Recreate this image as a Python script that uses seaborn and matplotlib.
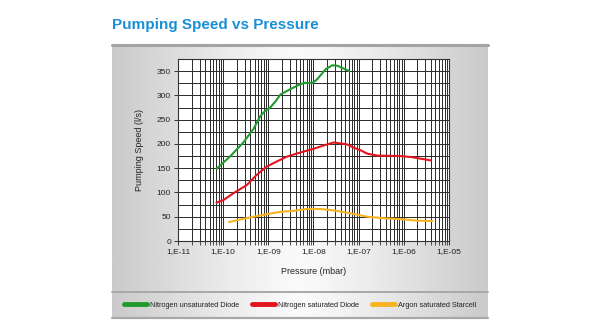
import numpy as np
import pandas as pd
import matplotlib
matplotlib.use("Agg")
import matplotlib.pyplot as plt
import matplotlib.ticker as mticker
from matplotlib.lines import Line2D
import seaborn as sns

title = "Pumping Speed vs Pressure"
x_label = "Pressure (mbar)"
y_label = "Pumping Speed (l/s)"
series_names = ["Nitrogen unsaturated Diode", "Nitrogen saturated Diode", "Argon saturated Starcell"]
series_colors = ["#1f9a2e", "#e3141e", "#f7b320"]

green_p = [7.2e-11, 1.45e-10, 2.8e-10, 4.7e-10, 6.6e-10, 8.5e-10, 1.1e-9, 1.45e-9, 1.86e-9,
           3.1e-9, 5.1e-9, 6.6e-9, 9.3e-9, 1.2e-8, 1.86e-8, 2.6e-8, 3.4e-8, 6.2e-8]
green_s = [149, 175, 203, 231, 257, 268, 275, 288, 302,
           313, 323, 326, 325, 333, 354, 362, 361, 350]

red_p = [7.1e-11, 1.0e-10, 1.66e-10, 3.3e-10, 5.5e-10, 9.1e-10, 1.55e-9, 2.6e-9, 5.0e-9,
         1.0e-8, 2.0e-8, 2.8e-8, 5.6e-8, 7.9e-8, 1.1e-7, 1.55e-7, 2.6e-7, 8.5e-7, 1.45e-6, 4.0e-6]
red_s = [79, 84, 98, 115, 136, 153, 164, 174, 182,
         190, 199, 203, 199, 192, 187, 180, 176, 175, 173, 166]

argon_p = [1.35e-10, 2.3e-10, 4.7e-10, 9.1e-10, 1.8e-9, 3.6e-9, 7.1e-9, 1.45e-8, 2.8e-8,
           6.6e-8, 1.55e-7, 3.6e-7, 8.5e-7, 2.0e-6, 4.3e-6]
argon_s = [39, 44, 50, 55, 60, 62, 66, 66, 63,
           57, 50, 47, 45, 42, 41]

y_ticks = [0, 50, 100, 150, 200, 250, 300, 350]
x_tick_labels = ["1,E-11", "1,E-10", "1,E-09", "1,E-08", "1,E-07", "1,E-06", "1,E-05"]

df = pd.concat([
    pd.DataFrame({"p": green_p, "s": green_s, "series": series_names[0]}),
    pd.DataFrame({"p": red_p, "s": red_s, "series": series_names[1]}),
    pd.DataFrame({"p": argon_p, "s": argon_s, "series": series_names[2]}),
])

sns.set_theme(style="white")
plt.rcParams["font.family"] = ["Liberation Sans", "DejaVu Sans"]

W, H = 600, 330
fig = plt.figure(figsize=(6, 3.3), dpi=100)

# grey gradient panel
bg = fig.add_axes([112 / W, 1 - 318 / H, (488 - 112) / W, (318 - 45) / H], zorder=0)
xx = np.linspace(-1, 1, 300)
yy = np.linspace(0, 1, 200)
X, Y = np.meshgrid(xx, yy)
val = 0.79 + 0.19 * (1 - np.abs(X) ** 1.2)
bg.imshow(val, cmap="gray", vmin=0, vmax=1, aspect="auto", extent=[0, 1, 0, 1], origin="lower")
bg.set_xlim(0, 1)
bg.set_ylim(0, 1)
bg.axis("off")
sep_y = (318 - 292) / (318 - 45)
bg.plot([0, 1], [1, 1], color="#a3a3a3", lw=2.2, transform=bg.transAxes, clip_on=False)
bg.plot([0, 1], [sep_y, sep_y], color="#a8a8a8", lw=1.4, transform=bg.transAxes, clip_on=False)
bg.plot([0, 1], [0, 0], color="#a8a8a8", lw=1.6, transform=bg.transAxes, clip_on=False)

ax = fig.add_axes([178 / W, 1 - 241 / H, (449 - 178) / W, (241 - 59) / H], zorder=2)
ax.set_facecolor("white")
sns.lineplot(data=df, x="p", y="s", hue="series", palette=series_colors,
             hue_order=series_names, sort=False, estimator=None, lw=1.5, ax=ax, legend=False, zorder=5)
ax.set_xscale("log")
ax.set_xlim(1e-11, 1e-5)
ax.set_ylim(0, 375)
ax.set_xticks([10.0 ** e for e in range(-11, -4)])
ax.set_xticklabels(x_tick_labels)
ax.xaxis.set_minor_locator(mticker.LogLocator(base=10, subs=np.arange(2, 10), numticks=100))
ax.xaxis.set_minor_formatter(mticker.NullFormatter())
ax.set_yticks(y_ticks)
ax.yaxis.set_minor_locator(mticker.MultipleLocator(25))
ax.grid(True, which="both", axis="both", color="#2a2a2a", lw=0.7)
ax.tick_params(axis="both", which="major", labelsize=6, length=3, width=0.7, color="#333333",
               bottom=True, left=True, pad=2, labelcolor="#222222")
ax.tick_params(axis="both", which="minor", length=3, width=0.6, color="#333333", bottom=True, left=False)
for s in ax.spines.values():
    s.set_color("#333333")
    s.set_linewidth(0.8)
ax.set_xlabel(x_label, fontsize=6.5, color="#222222", labelpad=9)
ax.set_ylabel(y_label, fontsize=6.5, color="#222222", labelpad=9)

fig.text(112 / W, 1 - 25 / H, title, fontsize=11, fontweight="bold",
         color="#1a8fd6", va="center", ha="left")

handles = [Line2D([0], [0], color=c, lw=3.5) for c in series_colors]
fig.legend(handles, series_names, loc="center", bbox_to_anchor=(0.5, 1 - 305 / H), ncol=3,
           frameon=False, handlelength=3.2, handletextpad=0.4, columnspacing=1.7,
           labelcolor="#222222", fontsize=5.3)

fig.savefig("out.png", dpi=100, facecolor="white")
